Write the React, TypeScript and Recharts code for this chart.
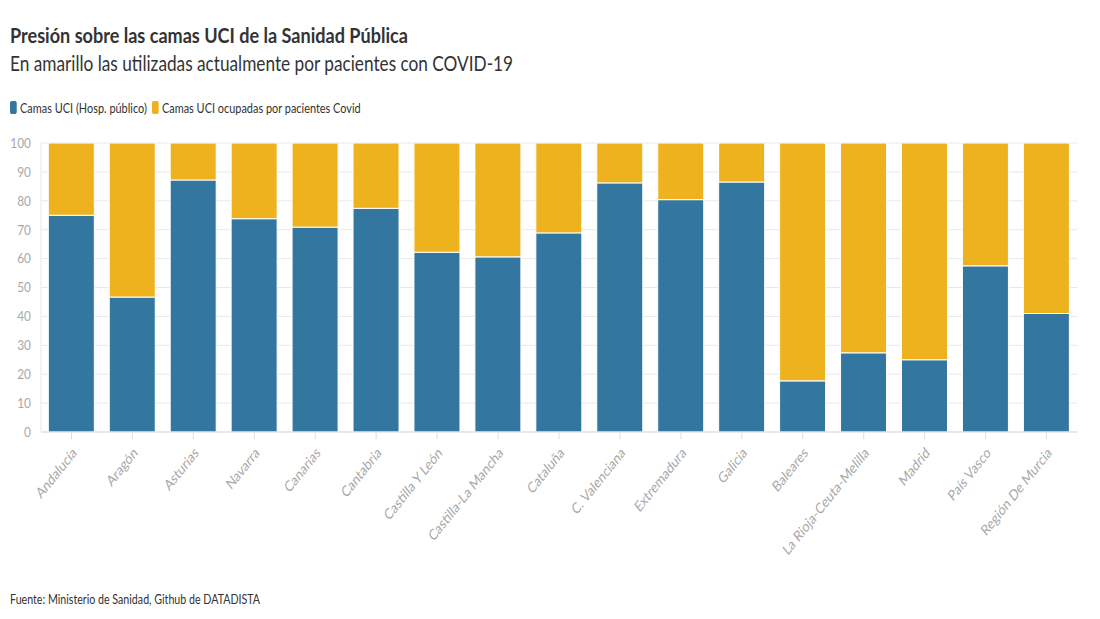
import React from 'react';
import { BarChart, Bar, XAxis, YAxis, CartesianGrid } from 'recharts';

const regions = [
  'Andalucía', 'Aragón', 'Asturias', 'Navarra', 'Canarias', 'Cantabria',
  'Castilla Y León', 'Castilla-La Mancha', 'Cataluña', 'C. Valenciana',
  'Extremadura', 'Galicia', 'Baleares', 'La Rioja-Ceuta-Melilla', 'Madrid',
  'País Vasco', 'Región De Murcia',
];

// % de camas UCI (hospital público) libres de Covid; el resto hasta 100 son Covid
const camasUci = [75, 46.7, 87.2, 73.8, 70.9, 77.4, 62.2, 60.6, 68.9, 86.2, 80.4, 86.5, 17.7, 27.4, 25.0, 57.5, 41.0];
const camasCovid = [25, 53.3, 12.8, 26.2, 29.1, 22.6, 37.8, 39.4, 31.1, 13.8, 19.6, 13.5, 82.3, 72.6, 75.0, 42.5, 59.0];

const yTicks = [0, 10, 20, 30, 40, 50, 60, 70, 80, 90, 100];

const data = regions.map((r, i) => ({ region: r, uci: camasUci[i], covid: camasCovid[i] }));

const FONT = 'Lato, "Noto Sans", sans-serif';
const BLUE = '#33769f';
const YELLOW = '#edb21e';

// labels are squeezed horizontally, like the original picture
const XTick = ({ x, y, payload }: any) => (
  <g transform={`translate(${x + 3},${y + 9})`}>
    <text
      x={0}
      y={0}
      dy="0.35em"
      textAnchor="end"
      transform="scale(0.8,1) rotate(-45)"
      fill="#a8a8a8"
      fontSize={15}
      fontFamily={FONT}
    >
      {payload.value}
    </text>
  </g>
);

const YTick = ({ x, y, payload }: any) => (
  <text
    x={x}
    y={y}
    dy="0.35em"
    textAnchor="end"
    transform={`translate(${x},0) scale(0.85,1) translate(${-x},0)`}
    fill="#a8a8a8"
    fontSize={14}
    fontFamily={FONT}
  >
    {payload.value}
  </text>
);

const Swatch = ({ color }: { color: string }) => (
  <span
    style={{
      display: 'inline-block',
      width: 8,
      height: 13,
      borderRadius: 2,
      background: color,
      marginRight: 4,
      verticalAlign: 'middle',
    }}
  />
);

const squeeze = (s: number): React.CSSProperties => ({
  transform: `scaleX(${s})`,
  transformOrigin: 'left center',
  whiteSpace: 'nowrap',
});

export default function App() {
  return (
    <div
      style={{
        position: 'absolute',
        left: 0,
        top: 0,
        width: 1100,
        height: 619,
        background: '#fff',
        fontFamily: FONT,
        color: '#333',
      }}
    >
      <div style={{ position: 'absolute', left: 10, top: 22, fontSize: 21, fontWeight: 700, ...squeeze(0.86) }}>
        Presión sobre las camas UCI de la Sanidad Pública
      </div>
      <div style={{ position: 'absolute', left: 10, top: 50, fontSize: 21, ...squeeze(0.82) }}>
        En amarillo las utilizadas actualmente por pacientes con COVID-19
      </div>
      <div style={{ position: 'absolute', left: 10, top: 98, fontSize: 13, ...squeeze(0.84) }}>
        <Swatch color={BLUE} />
        <span style={{ verticalAlign: 'middle', marginRight: 6 }}>Camas UCI (Hosp. público)</span>
        <Swatch color={YELLOW} />
        <span style={{ verticalAlign: 'middle' }}>Camas UCI ocupadas por pacientes Covid</span>
      </div>

      <div style={{ position: 'absolute', left: 0, top: 130 }}>
        <BarChart
          width={1100}
          height={460}
          data={data}
          margin={{ top: 13, right: 23, left: 0, bottom: 8 }}
          barCategoryGap="12%"
        >
          <CartesianGrid vertical={false} stroke="#e8e8e8" />
          <XAxis
            dataKey="region"
            interval={0}
            height={150}
            tick={<XTick />}
            tickSize={7}
            tickLine={{ stroke: '#ddd' }}
            axisLine={{ stroke: '#ddd' }}
          />
          <YAxis
            width={41}
            domain={[0, 100]}
            ticks={yTicks}
            tickSize={0}
            tickMargin={10}
            axisLine={{ stroke: '#e8e8e8' }}
            tick={<YTick />}
          />
          <Bar dataKey="uci" stackId="a" fill={BLUE} stroke="#fff" strokeWidth={1} isAnimationActive={false} />
          <Bar dataKey="covid" stackId="a" fill={YELLOW} stroke="#fff" strokeWidth={1} isAnimationActive={false} />
        </BarChart>
      </div>

      <div style={{ position: 'absolute', left: 10, top: 591, fontSize: 13, ...squeeze(0.82) }}>
        Fuente: Ministerio de Sanidad, Github de DATADISTA
      </div>
    </div>
  );
}
